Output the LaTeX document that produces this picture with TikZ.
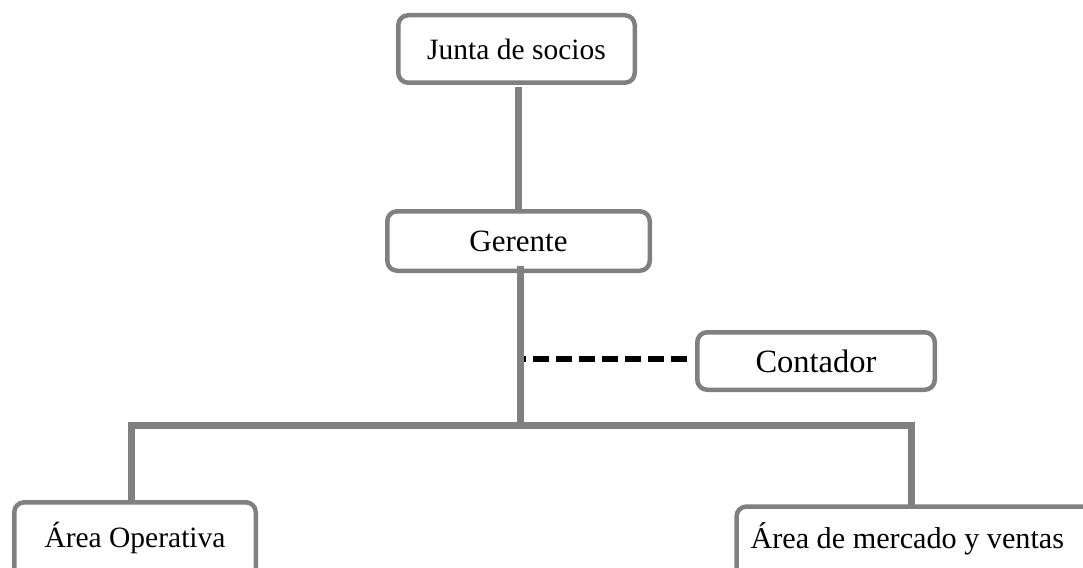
\documentclass[tikz,border=0pt]{standalone}
\usepackage{fontspec}
\setmainfont{Liberation Serif}
\definecolor{boxgray}{RGB}{128,128,128}
\begin{document}
\begin{tikzpicture}[x=1pt,y=-1pt,
  orgbox/.style={draw=boxgray, line width=4.5pt, rounded corners=10pt, fill=white,
    inner sep=0pt, font=\fontsize{29.5}{32}\selectfont},
  link/.style={draw=boxgray, line width=7pt},
  dotlink/.style={draw=black, line width=6.5pt, dash pattern=on 16pt off 7pt}]
\clip (0,0) rectangle (1083,567);
\useasboundingbox (0,0) rectangle (1083,567);
\fill[white] (0,0) rectangle (1083,567);
\coordinate (mid) at (520,425);
\coordinate (hl) at (131,425);
\coordinate (hr) at (911,425);
\node[orgbox, minimum width=236.5pt, minimum height=67.5pt] (J) at (516.5,49) {Junta de socios};
\node[orgbox, minimum width=262.5pt, minimum height=59.5pt, font=\fontsize{31}{33}\selectfont] (G) at (518.5,241) {Gerente};
\node[orgbox, minimum width=237.5pt, minimum height=57.5pt, font=\fontsize{32.5}{34}\selectfont] (C) at (816,361) {Contador};
\node[orgbox, minimum width=241.5pt, text height=44.75pt, text depth=40pt, anchor=base] (AO) at (135,547) {Área Operativa};
\node[orgbox, anchor=north west, inner xsep=14pt, text width=360pt, align=flush left, text height=42pt, text depth=40pt, font=\fontsize{30.2}{32}\selectfont] (AM) at (734.25,504.25) {\spaceskip=0pt\xspaceskip=0pt\relax Área de mercado y ventas};
\draw[link] ([xshift=2pt,yshift=-2pt]J.south) -- ([xshift=2pt]J.south |- G.north);
\draw[link] ([xshift=1.5pt,yshift=7pt]G.south) -- ([yshift=3.5pt]mid);
\draw[link] ([xshift=-3.5pt]hl) -- ([xshift=3.5pt]hr);
\draw[link] ([yshift=-3.5pt]hl) -- ([yshift=-3pt]hl |- AO.north);
\draw[link] ([yshift=-3.5pt]hr) -- ([yshift=-1pt]hr |- AM.north);
\draw[dotlink] ([xshift=-8pt,yshift=2pt]C.west) -- ([xshift=4pt,yshift=2pt]mid |- C.west);
\end{tikzpicture}
\end{document}
